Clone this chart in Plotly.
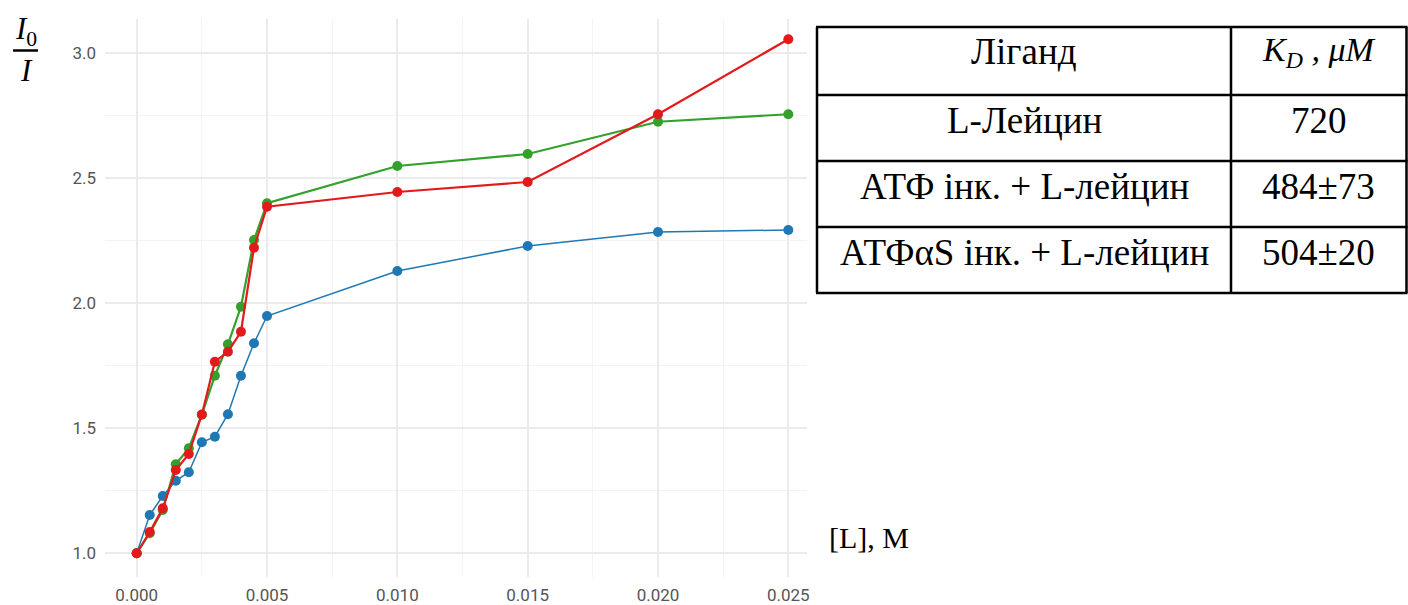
import plotly.graph_objects as go

# Ligand concentration, M
conc = [0.0, 0.0005, 0.001, 0.0015, 0.002, 0.0025, 0.003, 0.0035, 0.004, 0.0045,
        0.005, 0.010, 0.015, 0.020, 0.025]

# Relative fluorescence quenching I0/I
leucine = [1.0, 1.153, 1.229, 1.290, 1.324, 1.444, 1.466, 1.556, 1.710, 1.840,
           1.949, 2.129, 2.229, 2.285, 2.293]
atp_leucine = [1.0, 1.085, 1.18, 1.333, 1.397, 1.555, 1.766, 1.806, 1.886, 2.222,
               2.386, 2.445, 2.485, 2.756, 3.056]
atpas_leucine = [1.0, 1.080, 1.173, 1.356, 1.420, 1.554, 1.710, 1.836, 1.986, 2.253,
                 2.400, 2.549, 2.597, 2.726, 2.756]

# Dissociation constants table
table_header = ["Ліганд", "<i>K</i><sub><i>D</i></sub><i> , μM</i>"]
ligands = ["L-Лейцин", "АТФ інк. + L-лейцин", "АТФαS інк. + L-лейцин"]
kd_values = ["720", "484±73", "504±20"]

x_ticks = [0.000, 0.005, 0.010, 0.015, 0.020, 0.025]
y_ticks = [1.0, 1.5, 2.0, 2.5, 3.0]

W, H = 1408, 605
L, R, T, B = 105, 807, 19, 577   # plot area in pixels


def px(x):
    return (x - L) / (R - L)


def py(y):
    return (B - y) / (B - T)


fig = go.Figure()

series = [
    (leucine, "#1f78b4", 1.5),
    (atpas_leucine, "#33a02c", 2.2),
    (atp_leucine, "#e31a1c", 2.2),
]
for vals, color, lw in series:
    fig.add_trace(go.Scatter(
        x=conc, y=vals, mode="lines+markers",
        line=dict(color=color, width=lw),
        marker=dict(color=color, size=10),
        showlegend=False,
    ))

tick_font = dict(family="Roboto, Liberation Sans, Arial", size=17, color="#555555")
grid = "#ebebeb"

fig.update_xaxes(
    range=[-0.001216, 0.025717], tickvals=x_ticks,
    ticktext=[f"{v:.3f}" for v in x_ticks],
    showgrid=True, gridcolor=grid, gridwidth=1.5,
    minor=dict(showgrid=True, gridcolor="#f3f3f3", gridwidth=1, dtick=0.0025, tick0=0),
    zeroline=False, showline=False, ticks="", tickfont=tick_font,
    ticklabelstandoff=6, automargin=False,
)
fig.update_yaxes(
    range=[0.905, 3.137], tickvals=y_ticks,
    ticktext=[f"{v:.1f}" for v in y_ticks],
    showgrid=True, gridcolor=grid, gridwidth=1.5,
    minor=dict(showgrid=True, gridcolor="#f3f3f3", gridwidth=1, dtick=0.25, tick0=0),
    zeroline=False, showline=False, ticks="", tickfont=tick_font,
    ticklabelstandoff=8, automargin=False,
)

serif = "Liberation Serif, Times New Roman, serif"
annotations = []
shapes = []


def label(x, y, text, size):
    annotations.append(dict(x=px(x), y=py(y), xref="paper", yref="paper",
                            xanchor="center", yanchor="middle",
                            text=text, showarrow=False,
                            font=dict(family=serif, size=size, color="black")))


# Y-axis label as a fraction I0 / I
label(26, 31, "<i>I</i><sub>0</sub>", 31)
label(26, 70, "<i>I</i>", 31)
shapes.append(dict(type="line", xref="paper", yref="paper",
                   x0=px(13), x1=px(38), y0=py(50.5), y1=py(50.5),
                   line=dict(color="black", width=2.5)))

# X-axis label
label(869, 537, "[L], M", 30)

# Table grid
tx0, tx1, tdiv = 817, 1406.5, 1231
row_edges = [27, 95, 161, 227, 293]
for yy in row_edges:
    shapes.append(dict(type="line", xref="paper", yref="paper",
                       x0=px(tx0 - 1), x1=px(tx1 + 1), y0=py(yy), y1=py(yy),
                       line=dict(color="black", width=2.5)))
for xx in [tx0, tdiv, tx1]:
    shapes.append(dict(type="line", xref="paper", yref="paper",
                       x0=px(xx), x1=px(xx), y0=py(row_edges[0]), y1=py(row_edges[-1]),
                       line=dict(color="black", width=2.5)))

col1_c = (tx0 + tdiv) / 2
col2_c = (tdiv + tx1) / 2
rows = [(table_header[0], table_header[1])] + list(zip(ligands, kd_values))
for i, (left, right) in enumerate(rows):
    yc = row_edges[i] + 25
    label(col1_c, yc, left, 37)
    label(col2_c, yc, right, 37 if i else 34)

fig.update_layout(
    width=W, height=H,
    margin=dict(l=L, r=W - R, t=T, b=H - B, pad=0, autoexpand=False),
    plot_bgcolor="white", paper_bgcolor="white",
    annotations=annotations, shapes=shapes,
)

fig.write_html("out.html")
